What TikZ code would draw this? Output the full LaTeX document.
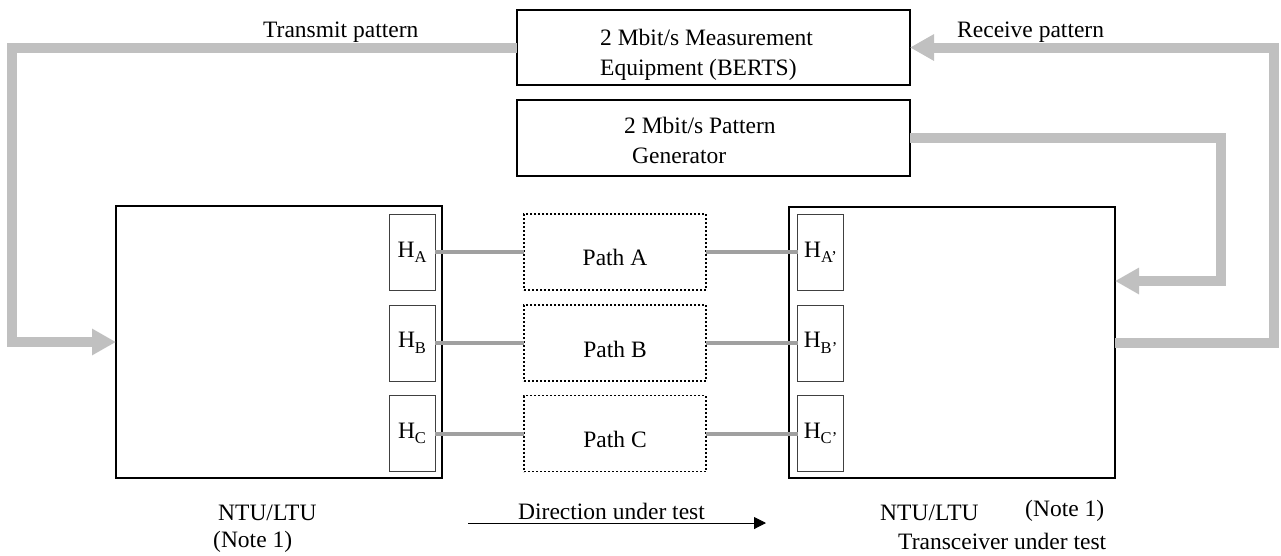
\documentclass[tikz,border=0pt]{standalone}
\usepackage{fontspec}
\setmainfont{Liberation Serif}
\usetikzlibrary{arrows.meta}
\definecolor{thickgray}{HTML}{C0C0C0}
\definecolor{thingray}{HTML}{A0A0A0}
\newcommand{\hsub}[1]{H\raisebox{-0.5ex}{\fontsize{16.5}{16.5}\selectfont #1}}
\begin{document}
\begin{tikzpicture}[x=1pt,y=-1pt,
  every node/.style={font=\fontsize{23.5}{28}\selectfont},
  box/.style={draw=black,line width=1.1pt,inner sep=0pt,outer sep=0pt},
  hbox/.style={draw=black!75,line width=1pt,inner sep=0pt,outer sep=0pt,minimum width=46pt,minimum height=76pt},
  pathbox/.style={draw=black,line width=1.5pt,dash pattern=on 2pt off 2pt,inner sep=0pt,outer sep=0pt,minimum width=182pt,minimum height=76pt},
  bigarrow/.style={draw=thickgray,line width=10pt,line join=miter,-{Triangle[length=24pt,width=25pt]}},
  link/.style={draw=thingray,line width=4pt},
  lbl/.style={anchor=base west,inner sep=0pt}
]
\useasboundingbox (0,0) rectangle (1281,555);

% top boxes
\node[box,minimum width=393pt,minimum height=75pt] (meas) at (713.5,47.5) {};
\node[box,minimum width=393pt,minimum height=76pt] (gen) at (713.5,138) {};
\node[lbl] (m1) at (600,45) {2 Mbit/s Measurement};
\node[lbl] (m2) at (600,75) {Equipment (BERTS)};
\node[lbl] (g1t) at (624,133) {2 Mbit/s Pattern};
\node[lbl] (g2t) at (632,163) {Generator};

% big boxes
\node[box,minimum width=326pt,minimum height=272pt] (ntuL) at (279,342) {};
\node[box,minimum width=326pt,minimum height=271pt] (ntuR) at (952,342.5) {};

% H boxes
\node[hbox] (ha) at (412,252) {\hsub{A}};
\node[hbox] (hb) at (412,343) {\hsub{B}};
\node[hbox] (hc) at (412,433.5) {\hsub{C}};
\node[hbox] (hap) at (820.5,252) {\hsub{A'}};
\node[hbox] (hbp) at (820.5,343) {\hsub{B'}};
\node[hbox] (hcp) at (820.5,433.5) {\hsub{C'}};

% path boxes
\node[pathbox] (pa) at (615,252) {};
\node[pathbox] (pb) at (615,343) {};
\node[pathbox] (pc) at (615,433.5) {};
\node (pat) at (615,257) {Path A};
\node (pbt) at (615,349) {Path B};
\node (pct) at (615,439) {Path C};

% links
\draw[link] (ha.east) -- (pa.west);
\draw[link] (hb.east) -- (pb.west);
\draw[link] (hc.east) -- (pc.west);
\draw[link] (pa.east) -- (hap.west);
\draw[link] (pb.east) -- (hbp.west);
\draw[link] (pc.east) -- (hcp.west);

% big gray arrows
\coordinate (tcorner) at (11.5,47.5);
\coordinate (rcorner) at (1274,342.5);
\coordinate (gcorner) at (1221,281);
\draw[bigarrow] (meas.west) -- (tcorner) |- (ntuL.west);
\draw[bigarrow] (ntuR.east) -- (rcorner) |- (meas.east);
\draw[bigarrow] (gen.east) -| (gcorner) -- (gcorner -| ntuR.east);

% labels
\node[lbl] (tx) at (263,37) {Transmit pattern};
\node[lbl] (rx) at (957,37) {Receive pattern};
\node[lbl] (nl1) at (218,520) {NTU/LTU};
\node[lbl] (nl2) at (213,547) {(Note 1)};
\node[lbl] (nr1) at (880,520) {NTU/LTU};
\node[lbl] (nr2) at (1025,516) {(Note 1)};
\node[lbl] (nr3) at (898,549) {Transceiver under test};
\node[lbl] (dir) at (518,519) {Direction under test};
\coordinate (d0) at (468,523);
\coordinate (d1) at (766,523);
\draw[line width=1pt,-{Triangle[length=12pt,width=12pt]}] (d0) -- (d1);
\end{tikzpicture}
\end{document}
